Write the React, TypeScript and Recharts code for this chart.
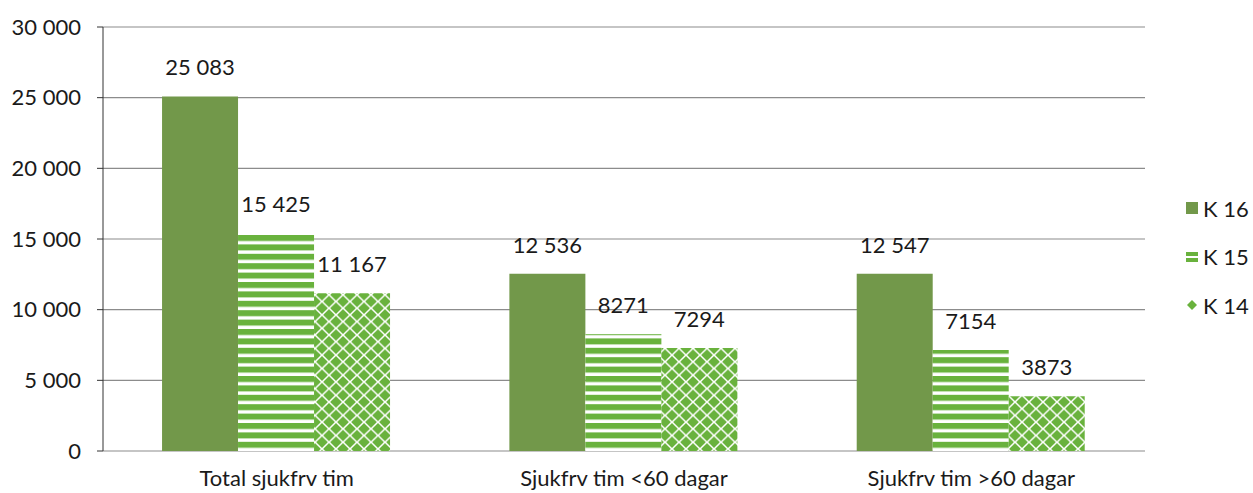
import React from "react"
import { BarChart, Bar, XAxis, YAxis, CartesianGrid, LabelList } from "recharts"

const categories = ["Total sjukfrv tim", "Sjukfrv tim <60 dagar", "Sjukfrv tim >60 dagar"]
const k16 = [25083, 12536, 12547]
const k15 = [15425, 8271, 7154]
const k14 = [11167, 7294, 3873]
const yTicks = [0, 5000, 10000, 15000, 20000, 25000, 30000]
const seriesNames = ["K 16", "K 15", "K 14"]

const DARK = "#72984a"
const LIGHT = "#69b23d"
const FONT = "Lato, 'Open Sans', sans-serif"
const FS = 22

const data = categories.map((name, i) => ({ name, pos: i, k16: k16[i], k15: k15[i], k14: k14[i] }))

// 5 000 style for axis, 25 083 style only for five-digit labels
const spaced = (v: number) => String(v).replace(/\B(?=(\d{3})+(?!\d))/g, " ")
const barLabel = (v: any) => (Number(v) >= 10000 ? spaced(Number(v)) : String(v))
const labelStyle = { fontFamily: FONT, fontSize: FS, fill: "#1a1a1a" }

// one diamond, centred at cx, cy
const diamond = (cx: number, cy: number) => {
  const w = 5.9
  const h = 5.7
  return `${cx},${cy - h} ${cx + w},${cy} ${cx},${cy + h} ${cx - w},${cy}`
}

function LegendBox() {
  const rowStyle: React.CSSProperties = {
    display: "flex",
    alignItems: "center",
    height: 26,
    marginBottom: 22.5,
    fontFamily: FONT,
    fontSize: FS,
    color: "#1a1a1a",
  }
  const icons = [
    <svg width={14} height={14} key="a">
      <rect x={1} y={1} width={12} height={12} fill={DARK} />
    </svg>,
    <svg width={14} height={14} key="b">
      <rect x={1} y={2} width={12} height={4} fill={LIGHT} />
      <rect x={1} y={8} width={12} height={4} fill={LIGHT} />
    </svg>,
    <svg width={14} height={14} key="c">
      <polygon points="7,2 12,7 7,12 2,7" fill={LIGHT} />
    </svg>,
  ]
  return (
    <div style={{ position: "absolute", left: 1185, top: 195 }}>
      {seriesNames.map((n, i) => (
        <div key={n} style={rowStyle}>
          {icons[i]}
          <span style={{ marginLeft: 4 }}>{n}</span>
        </div>
      ))}
    </div>
  )
}

export default function App() {
  return (
    <div style={{ position: "absolute", left: 0, top: 0, width: 1253, height: 493, background: "#fff" }}>
      <BarChart
        width={1253}
        height={493}
        data={data}
        margin={{ top: 27, right: 108, bottom: 0, left: 0 }}
        barCategoryGap="17%"
        barGap={0}
      >
        <defs>
          <pattern id="stripes" width={10} height={9.4} patternUnits="userSpaceOnUse">
            <rect x={0} y={0} width={10} height={9.4} fill="#fff" />
            <rect x={0} y={0} width={10} height={6} fill={LIGHT} />
          </pattern>
          <pattern id="diamonds" width={14} height={13.4} patternUnits="userSpaceOnUse">
            <rect x={0} y={0} width={14} height={13.4} fill="#fff" />
            <polygon points={diamond(7, 6.7)} fill={LIGHT} />
            <polygon points={diamond(0, 0)} fill={LIGHT} />
            <polygon points={diamond(14, 0)} fill={LIGHT} />
            <polygon points={diamond(0, 13.4)} fill={LIGHT} />
            <polygon points={diamond(14, 13.4)} fill={LIGHT} />
          </pattern>
        </defs>
        <CartesianGrid vertical={false} stroke="#8c8c8c" strokeWidth={1.2} />
        <XAxis
          xAxisId="frame"
          type="number"
          dataKey="pos"
          domain={[-0.5, 2.5]}
          ticks={[-0.5, 0.5, 1.5, 2.5]}
          tick={false}
          tickSize={9}
          height={0}
          stroke="#333"
          allowDataOverflow
        />
        <XAxis
          dataKey="name"
          height={42}
          axisLine={false}
          tickLine={false}
          tickSize={6}
          tickMargin={13}
          tick={{ fontFamily: FONT, fontSize: FS, fill: "#1a1a1a" }}
        />
        <YAxis
          domain={[0, 30000]}
          ticks={yTicks}
          width={103}
          tickSize={6}
          tickMargin={16}
          stroke="#333"
          tickFormatter={spaced}
          tick={{ fontFamily: FONT, fontSize: FS, fill: "#1a1a1a" }}
        />
        <Bar dataKey="k16" name="K 16" fill={DARK} isAnimationActive={false}>
          <LabelList dataKey="k16" position="top" offset={21} formatter={barLabel} style={labelStyle} />
        </Bar>
        <Bar dataKey="k15" name="K 15" fill="url(#stripes)" isAnimationActive={false}>
          <LabelList dataKey="k15" position="top" offset={21} formatter={barLabel} style={labelStyle} />
        </Bar>
        <Bar dataKey="k14" name="K 14" fill="url(#diamonds)" isAnimationActive={false}>
          <LabelList dataKey="k14" position="top" offset={21} formatter={barLabel} style={labelStyle} />
        </Bar>
      </BarChart>
      <LegendBox />
    </div>
  )
}
